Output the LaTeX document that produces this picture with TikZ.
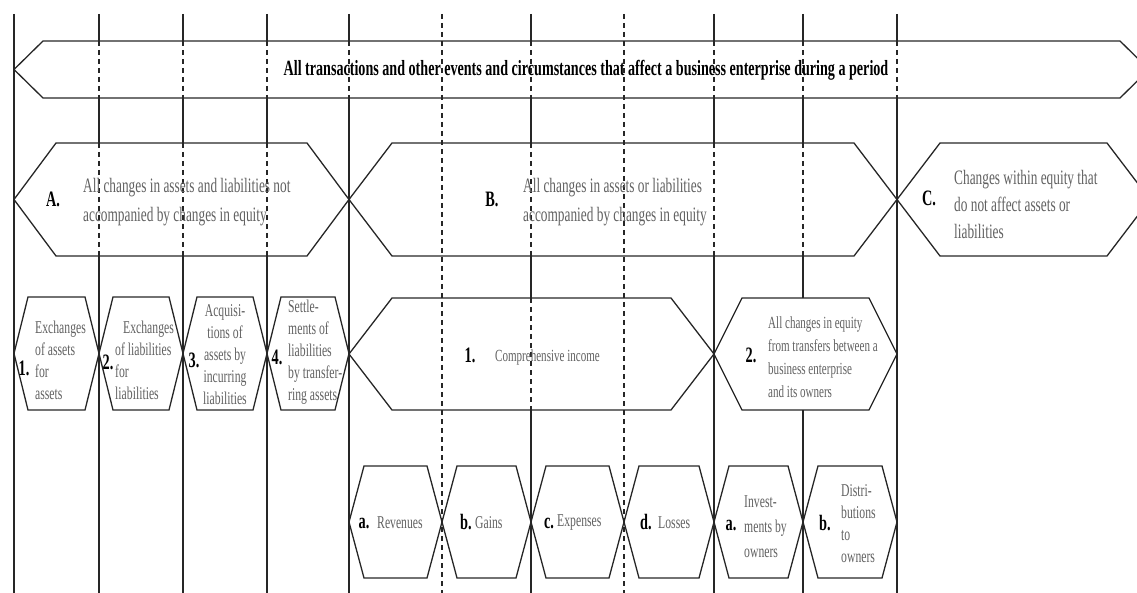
\documentclass[tikz,border=0pt]{standalone}
\usepackage{fontspec}
\setmainfont{Liberation Serif}
\newfontfamily\cond[FakeStretch=0.65]{Liberation Serif}
\newcommand\hexa[5]{\draw[hexline] (#1,{(#3+#4)/2}) -- ({#1+#5},#3) -- ({#2-#5},#3) -- (#2,{(#3+#4)/2}) -- ({#2-#5},#4) -- ({#1+#5},#4) -- cycle;}
\begin{document}
\begin{tikzpicture}[x=1pt,y=-1pt,
  hexline/.style={line width=1.3pt,draw=black!85,line join=miter},
  vsolid/.style={line width=1.3pt,draw=black!85},
  vdash/.style={line width=1.3pt,draw=black!85,dash pattern=on 5pt off 4pt},
  title/.style={font=\cond\bfseries\fontsize{21.7}{24}\selectfont,text=black,inner sep=0pt},
  num/.style={font=\cond\bfseries\fontsize{22}{24}\selectfont,text=black,inner sep=0pt},
  bigtxt/.style={font=\cond\fontsize{20.5}{29}\selectfont,text=black!62,align=left,inner sep=0pt,anchor=west},
  smalltxt/.style={font=\cond\fontsize{18}{22}\selectfont,text=black!62,align=left,inner sep=0pt,anchor=west},
  midtxt/.style={font=\cond\fontsize{17}{23}\selectfont,text=black!62,align=left,inner sep=0pt,anchor=west}]
\useasboundingbox (0,0) rectangle (1137,593);
\clip (0,0) rectangle (1137,593);
% vertical lines
\draw[vsolid] (14,14) -- (14,593);
\foreach \x in {99,183,267}{
  \draw[vsolid] (\x,14) -- (\x,41) (\x,98) -- (\x,143) (\x,256) -- (\x,593);
  \draw[vdash] (\x,41) -- (\x,98) (\x,143) -- (\x,256);
}
\foreach \x in {349,897}{
  \draw[vsolid] (\x,14) -- (\x,41) (\x,98) -- (\x,593);
  \draw[vdash] (\x,41) -- (\x,98);
}
\foreach \x in {442,624}{
  \draw[vdash] (\x,14) -- (\x,593);
}
\draw[vsolid] (531,14) -- (531,41) (531,98) -- (531,143) (531,256) -- (531,298) (531,410) -- (531,593);
\draw[vdash] (531,41) -- (531,98) (531,143) -- (531,256) (531,298) -- (531,410);
\draw[vsolid] (714,14) -- (714,41) (714,98) -- (714,143) (714,256) -- (714,593);
\draw[vdash] (714,41) -- (714,98) (714,143) -- (714,256);
\draw[vsolid] (803,14) -- (803,41) (803,98) -- (803,143) (803,256) -- (803,298) (803,410) -- (803,593);
\draw[vdash] (803,41) -- (803,98) (803,143) -- (803,256);
% hexagons
\hexa{14}{1149}{41}{98}{29}
\hexa{14}{349}{143}{256}{42}
\hexa{349}{897}{143}{256}{43}
\hexa{897}{1150}{143}{256}{43}
\hexa{14}{99}{297}{410}{14}
\hexa{99}{183}{297}{410}{14}
\hexa{183}{267}{297}{410}{14}
\hexa{267}{349}{297}{410}{14}
\hexa{349}{714}{298}{410}{43}
\hexa{714}{897}{298}{410}{28}
\hexa{349}{442}{466}{578}{15}
\hexa{442}{531}{466}{578}{15}
\hexa{531}{624}{466}{578}{15}
\hexa{624}{714}{466}{578}{15}
\hexa{714}{803}{466}{578}{15}
\hexa{803}{897}{466}{578}{15}
% texts
\node[title] (t0) at (586,70) {All transactions and other events and circumstances that affect a business enterprise during a period};
\node[num] (nA) at (53,199) {A.};
\node[bigtxt] (tA) at (83,202) {All changes in assets and liabilities not\\accompanied by changes in equity};
\node[num] (nB) at (492,199) {B.};
\node[bigtxt] (tB) at (523,202) {All changes in assets or liabilities\\accompanied by changes in equity};
\node[num] (nC) at (929,198) {C.};
\node[bigtxt,font=\cond\fontsize{20.5}{27}\selectfont] (tC) at (954,204) {Changes within equity that\\do not affect assets or\\liabilities};
\node[num] (n1) at (24,368) {1.};
\node[smalltxt] (t1) at (35,360) {Exchanges\\of assets\\for\\assets};
\node[num] (n2) at (108,362) {2.};
\node[smalltxt] (t2) at (115,360) {\hspace*{8pt}Exchanges\\of liabilities\\for\\liabilities};
\node[num] (n3) at (194,360) {3.};
\node[smalltxt,align=center,anchor=center] (t3) at (225,355) {Acquisi-\\tions of\\assets by\\incurring\\liabilities};
\node[num] (n4) at (277,357) {4.};
\node[smalltxt] (t4) at (288,352) {Settle-\\ments of\\liabilities\\by transfer-\\ring assets};
\node[num] (nCI) at (470,355) {1.};
\node[midtxt] (tCI) at (495,357) {Comprehensive income};
\node[num] (nOW) at (751,355) {2.};
\node[midtxt] (tOW) at (768,357) {All changes in equity\\from transfers between a\\business enterprise\\and its owners};
\node[num] (na) at (364,523) {a.};
\node[smalltxt] (ta) at (377,523) {Revenues};
\node[num] (nb) at (466,522) {b.};
\node[smalltxt] (tb) at (475,523) {Gains};
\node[num] (nc) at (549,523) {c.};
\node[smalltxt] (tc) at (557,523) {Expenses};
\node[num] (nd) at (646,522) {d.};
\node[smalltxt] (td) at (658,523) {Losses};
\node[num] (nia) at (731,525) {a.};
\node[smalltxt,font=\cond\fontsize{18}{25}\selectfont] (tia) at (744,527) {Invest-\\ments by\\owners};
\node[num] (nib) at (825,523) {b.};
\node[smalltxt] (tib) at (841,524) {Distri-\\butions\\to\\owners};
\end{tikzpicture}
\end{document}
